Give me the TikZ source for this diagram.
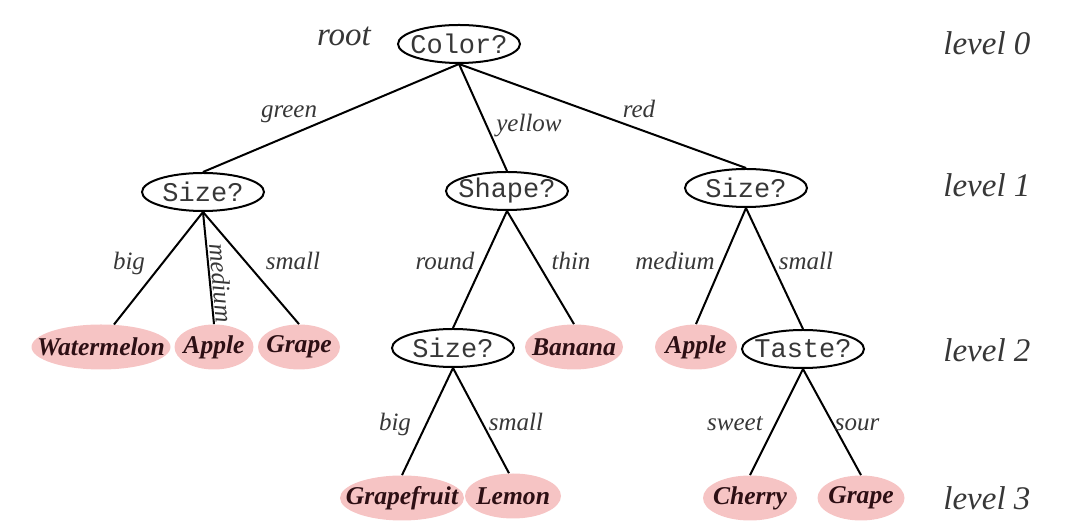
\documentclass[tikz,border=0pt]{standalone}
\usepackage{fontspec}
\setmainfont{Liberation Serif}
\setmonofont{Liberation Mono}
\usepackage{xcolor}
\usepackage{tikz}
\usetikzlibrary{shapes.geometric}
\definecolor{leafpink}{RGB}{246,196,196}
\definecolor{leaftext}{RGB}{45,15,20}
\definecolor{lbltext}{RGB}{55,55,55}
\definecolor{qtext}{RGB}{55,55,55}

\begin{document}
\begin{tikzpicture}[x=0.5pt, y=-0.5pt,
  question/.style={ellipse, draw, line width=1pt, inner sep=-6pt,
    minimum width=61pt, minimum height=19pt, text=qtext,
    font=\ttfamily\fontsize{13.5}{15}\selectfont},
  leaf/.style={ellipse, fill=leafpink, inner xsep=-10pt, inner ysep=-2pt,
    minimum width=#1, minimum height=22.5pt, text=leaftext,
    font=\bfseries\itshape\fontsize{12.8}{15}\selectfont},
  lbl/.style={anchor=base, text=lbltext, inner sep=0pt,
    font=\itshape\fontsize{12.5}{15}\selectfont},
  lvl/.style={anchor=base west, text=lbltext, inner sep=0pt,
    font=\itshape\fontsize{16.5}{18}\selectfont},
  edge/.style={line width=1pt}]
\useasboundingbox (0,0) rectangle (1072,528);

% Level 0
\node[question] (color) at (459,44) {Color?};
\node[lvl, anchor=base] (rootlbl) at (344,46) {root};

% Level 1
\node[question] (sizeG) at (203,192) {Size?};
\node[question] (shape) at (507,191) {Shape?};
\node[question] (sizeR) at (746,188) {Size?};

% Level 2
\node[leaf=69.5pt] (wmelon) at (101,347) {Watermelon};
\node[leaf=39.5pt] (appleG) at (214,347) {Apple};
\node[leaf=41pt] (grapeG) at (299,347) {Grape};
\node[question] (sizeY) at (453,348) {Size?};
\node[leaf=49pt] (banana) at (574,347) {Banana};
\node[leaf=41pt] (appleR) at (696,347) {Apple};
\node[question] (taste) at (803,349) {Taste?};

% Level 3
\node[leaf=62pt] (gfruit) at (402,498) {Grapefruit};
\node[leaf=48pt] (lemon) at (513,496) {Lemon};
\node[leaf=47pt] (cherry) at (750,498) {Cherry};
\node[leaf=43.5pt] (grapeR) at (861,498) {Grape};

% Branches
\draw[edge] (color.south) -- (sizeG.north);
\draw[edge] (color.south) -- (shape.north);
\draw[edge] (color.south) -- (sizeR.north);
\draw[edge] (sizeG.south) -- (wmelon.60);
\draw[edge] (sizeG.south) -- (appleG.north);
\draw[edge] (sizeG.south) -- (grapeG.north);
\draw[edge] (shape.south) -- (sizeY.north);
\draw[edge] (shape.south) -- (banana.north);
\draw[edge] (sizeR.south) -- (appleR.north);
\draw[edge] (sizeR.south) -- (taste.north);
\draw[edge] (sizeY.south) -- (gfruit.north);
\draw[edge] (sizeY.south) -- (lemon.100);
\draw[edge] (taste.south) -- (cherry.north);
\draw[edge] (taste.south) -- (grapeR.north);

% Branch labels
\node[lbl] (lgreen) at (289,118) {green};
\node[lbl] (lyellow) at (529,132) {yellow};
\node[lbl] (lred) at (639,118) {red};
\node[lbl] (lbig1) at (129,270) {big};
\node[lbl, anchor=center, rotate=-85] (lmed1) at (221,283) {medium};
\node[lbl] (lsmall1) at (293,270) {small};
\node[lbl] (lround) at (445,270) {round};
\node[lbl] (lthin) at (571,270) {thin};
\node[lbl] (lmed2) at (675,270) {medium};
\node[lbl] (lsmall2) at (806,270) {small};
\node[lbl] (lbig2) at (395,431) {big};
\node[lbl] (lsmall3) at (516,431) {small};
\node[lbl] (lsweet) at (735,431) {sweet};
\node[lbl] (lsour) at (857,431) {sour};

% Levels
\node[lvl] (lv0) at (943,55) {level 0};
\node[lvl] (lv1) at (943,197) {level 1};
\node[lvl] (lv2) at (943,362) {level 2};
\node[lvl] (lv3) at (943,510) {level 3};
\end{tikzpicture}
\end{document}
